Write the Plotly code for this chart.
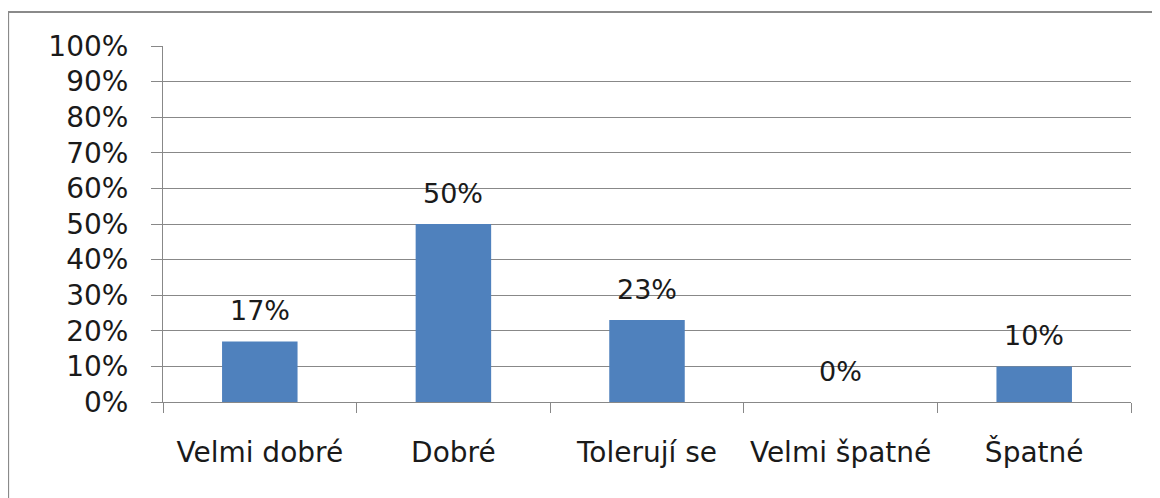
import plotly.graph_objects as go

categories = ["Velmi dobré", "Dobré", "Tolerují se", "Velmi špatné", "Špatné"]
values = [0.17, 0.50, 0.23, 0.00, 0.10]
labels = ["17%", "50%", "23%", "0%", "10%"]
y_ticks = [i / 10 for i in range(11)]

BAR = "#4F81BD"
GRID = "#888888"
FONT = "DejaVu Sans"
TXT = "#1a1a1a"

fig = go.Figure()
fig.add_trace(go.Bar(x=categories, y=values, marker=dict(color=BAR, line=dict(width=0)),
                     width=0.39, hoverinfo="skip"))

for c, v, t in zip(categories, values, labels):
    fig.add_annotation(x=c, y=v, text=t, showarrow=False, yshift=31,
                       font=dict(family=FONT, size=27, color=TXT))

fig.add_shape(type="rect", xref="paper", yref="paper",
              x0=-0.160, x1=1.2, y0=-0.5, y1=1.0955,
              line=dict(color="#8a8a8a", width=2), fillcolor="rgba(0,0,0,0)", layer="below")

fig.update_layout(
    width=1160, height=498,
    margin=dict(l=155, r=37, t=38, b=104),
    paper_bgcolor="white", plot_bgcolor="white",
    showlegend=False,
    font=dict(family=FONT, size=27, color=TXT),
    xaxis=dict(type="category", showgrid=False, showline=True, linecolor=GRID, linewidth=1,
               ticks="outside", tickson="boundaries", ticklen=10, tickcolor=GRID, tickwidth=1,
               ticklabelstandoff=25, tickfont=dict(family=FONT, size=28, color=TXT)),
    yaxis=dict(range=[0, 1], tickvals=y_ticks, tickformat=".0%", showgrid=True,
               gridcolor=GRID, gridwidth=1, showline=True, linecolor=GRID, linewidth=1,
               ticks="outside", ticklen=11, tickcolor=GRID, tickwidth=1, zeroline=False,
               ticklabelstandoff=17, tickfont=dict(family=FONT, size=28, color=TXT)),
)

fig.write_html("out.html")
